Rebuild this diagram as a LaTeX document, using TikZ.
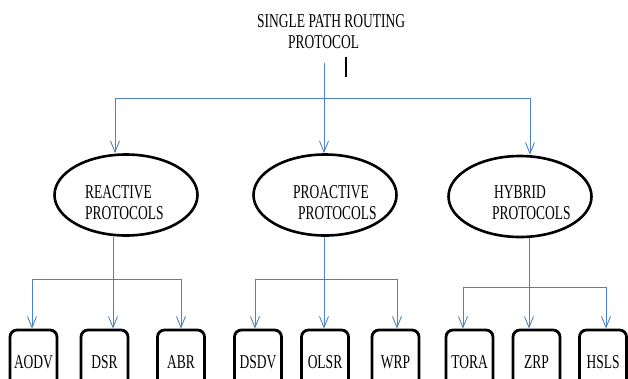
\documentclass[tikz,border=0pt]{standalone}
\usepackage{fontspec}
\setmainfont{Liberation Serif}
\usetikzlibrary{arrows.meta,calc,shapes.geometric}
\definecolor{lineblue}{RGB}{79,129,189}
\newcommand\tl[1]{\scalebox{1}[1.45]{#1}}
\begin{document}
\begin{tikzpicture}[x=1pt,y=-1pt,
 every node/.style={font=\fontsize{13.5}{21}\selectfont},
 conn/.style={draw=lineblue,line width=0.9pt},
 arr/.style={conn,-{Straight Barb[length=11pt,width=9pt]}},
 proto/.style={ellipse,draw=black,line width=2.6pt,minimum width=143pt,minimum height=81pt,inner sep=0pt},
 leaf/.style={rectangle,draw=black,line width=2.8pt,rounded corners=7pt,minimum width=47pt,minimum height=64pt,inner sep=0pt},
 lbl/.style={align=left,inner sep=0pt}]
\useasboundingbox (0,0) rectangle (628,378);
\clip (0,0) rectangle (628,378);

% title
\node[lbl,anchor=west] (title) at (257,32) {\tl{SINGLE PATH ROUTING}\\\hspace*{31pt}\tl{PROTOCOL}};
\coordinate (m1) at (346,57);
\coordinate (m2) at (346,77);
\draw[line width=1.6pt] (m1) -- (m2);

% protocol families
\node[proto] (reactive) at (126,195) {};
\node[proto] (proactive) at (325,195) {};
\node[proto] (hybrid) at (520,196.5) {};
\node[lbl,anchor=west] (reactiveT) at (85,203) {\tl{REACTIVE}\\\tl{PROTOCOLS}};
\node[lbl,anchor=west] (proactiveT) at (293,203) {\tl{PROACTIVE}\\\hspace*{5pt}\tl{PROTOCOLS}};
\node[lbl,anchor=west] (hybridT) at (492,203) {\hspace*{2pt}\tl{HYBRID}\\\tl{PROTOCOLS}};

% leaves
\node[leaf] (AODV) at (33.5,362) {\tl{AODV}};
\node[leaf] (DSR) at (104.5,362) {\tl{DSR}};
\node[leaf] (ABR) at (181,362) {\tl{ABR}};
\node[leaf] (DSDV) at (258,362) {\tl{DSDV}};
\node[leaf] (OLSR) at (325,362) {\tl{OLSR}};
\node[leaf] (WRP) at (395.5,362) {\tl{WRP}};
\node[leaf] (TORA) at (469.5,362) {\tl{TORA}};
\node[leaf] (ZRP) at (536.5,362) {\tl{ZRP}};
\node[leaf] (HSLS) at (603,362) {\tl{HSLS}};

% top level connectors
\coordinate (topstart) at (324,63);
\coordinate (tb) at (324,98);
\draw[conn] (topstart) -- (tb);
\draw[arr] (tb) -| ($(reactive.north)+(-11,0)$);
\draw[arr] (tb) -| ($(hybrid.north)+(10,0)$);
\draw[arr] (tb) -- (proactive.north -| tb);

% reactive branch
\coordinate (rb) at (113,279);
\draw[arr] (reactive.south -| rb) -- (DSR.north -| rb);
\draw[arr] (rb) -| ($(AODV.north)+(-1.5,0)$);
\draw[arr] (rb) -| (ABR.north);

% proactive branch
\coordinate (pb) at (324,279);
\draw[arr] (proactive.south -| pb) -- (OLSR.north -| pb);
\draw[arr] (pb) -| ($(DSDV.north)+(-3,0)$);
\draw[arr] (pb) -| ($(WRP.north)+(1.5,0)$);

% hybrid branch
\coordinate (hb) at (529,287);
\draw[arr] (hybrid.south -| hb) -- (ZRP.north -| hb);
\draw[arr] (hb) -| ($(TORA.north)+(-6.5,0)$);
\draw[arr] (hb) -| ($(HSLS.north)+(3,0)$);
\end{tikzpicture}
\end{document}
